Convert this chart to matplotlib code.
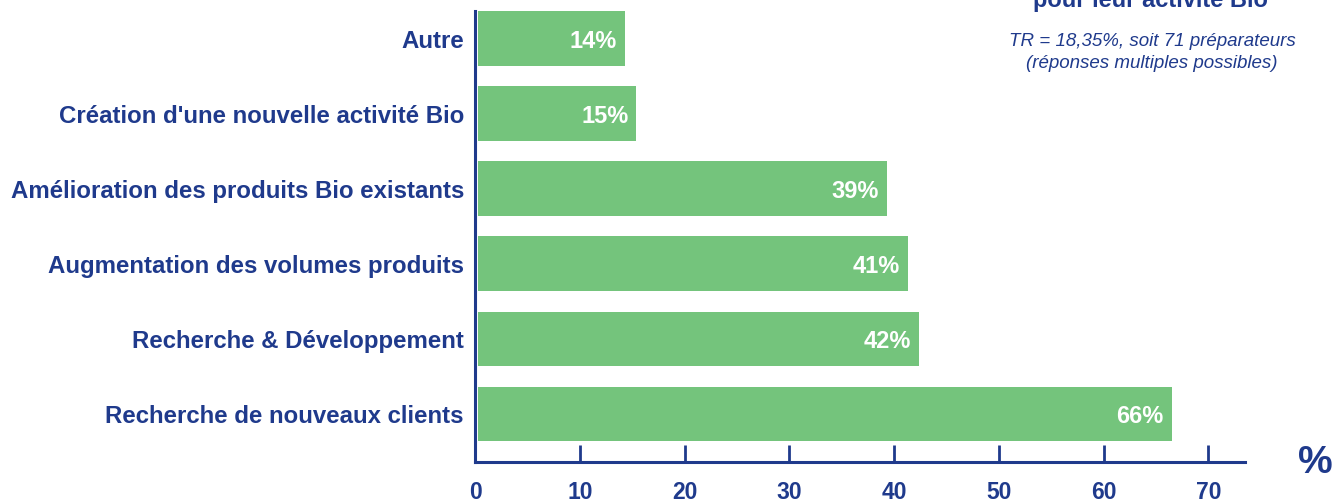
import matplotlib
matplotlib.use("Agg")
import matplotlib.pyplot as plt

categories = ["Recherche de nouveaux clients", "Recherche & Développement",
              "Augmentation des volumes produits", "Amélioration des produits Bio existants",
              "Création d'une nouvelle activité Bio", "Autre"]
values = [66.2, 42.1, 41.0, 39.0, 15.1, 14.0]
value_labels = ["66%", "42%", "41%", "39%", "15%", "14%"]
xticks = [0, 10, 20, 30, 40, 50, 60, 70]

NAVY = "#1F3A8C"
GREEN = "#74C47C"
plt.rcParams['font.family'] = ['Liberation Sans', 'DejaVu Sans']

fig = plt.figure(figsize=(13.33, 5.03), dpi=100)
ax = fig.add_axes([475/1333, 1-462/503, (1245-475)/1333, (462-11)/503])
y = list(range(len(categories)))
ax.barh(y, values, height=0.73, color=GREEN, left=0.3)
ax.set_xlim(0, 73.5)
ax.set_ylim(-0.64, 5.37)
for s in ["top", "right"]:
    ax.spines[s].set_visible(False)
for s in ["left", "bottom"]:
    ax.spines[s].set_color(NAVY)
    ax.spines[s].set_linewidth(2.2)
ax.set_yticks(y)
ax.set_yticklabels(categories, fontsize=17.3, fontweight="bold", color=NAVY)
ax.tick_params(axis="y", length=0, pad=8)
ax.set_xticks(xticks)
ax.set_xticklabels([str(t) for t in xticks], fontsize=16.5, fontweight="bold", color=NAVY,
                   family=['Liberation Sans Narrow', 'Liberation Sans'])
ax.tick_params(axis="x", direction="in", length=12, width=2, color=NAVY, pad=14)

for yi, v, lab in zip(y, values, value_labels):
    ax.text(v + 0.3 - 0.75, yi - 0.04, lab, ha="right", va="center", color="white",
            fontsize=17, fontweight="bold")

fig.text(1315/1333, 1-463/503, "%", ha="center", va="center", fontsize=28,
         fontweight="bold", color=NAVY)
fig.text(1150/1333, 1-7/503, "pour leur activité Bio", ha="center", va="baseline",
         fontsize=17, fontweight="bold", color=NAVY)
fig.text(1152/1333, 1-41/503, "TR = 18,35%, soit 71 préparateurs", ha="center", va="center",
         fontsize=13.5, style="italic", color=NAVY)
fig.text(1152/1333, 1-64/503, "(réponses multiples possibles)", ha="center", va="center",
         fontsize=13.5, style="italic", color=NAVY)

fig.savefig("out.png", dpi=100)
